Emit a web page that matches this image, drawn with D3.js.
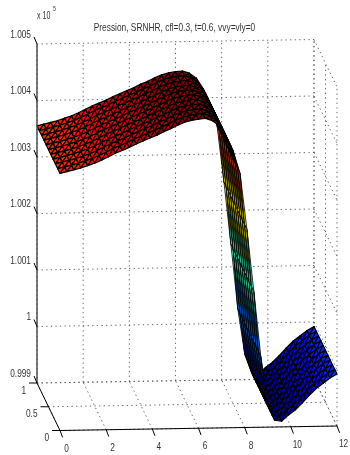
<!DOCTYPE html>
<html>
<head>
<meta charset="utf-8">
<script src="https://cdn.jsdelivr.net/npm/d3@7"></script>
<style>
html,body{margin:0;padding:0;background:#fff;}
svg{display:block;filter:blur(0.25px);}
text{font-family:"Liberation Sans",Arial,sans-serif;fill:#333;}
</style>
</head>
<body>
<svg id="c" width="350" height="455"></svg>
<script>
const titleText = "Pression, SRNHR, cfl=0.3, t=0.6, vvy=vly=0";
const xTickValues = [0, 2, 4, 6, 8, 10, 12];
const yTickValues = [0, 0.5, 1];
const zTickValues = [0.999, 1, 1.001, 1.002, 1.003, 1.004, 1.005];
const zTickLabels = ["0.999", "1", "1.001", "1.002", "1.003", "1.004", "1.005"];
const yNodes = [1, 0.9, 0.8, 0.7, 0.6, 0.5, 0.4, 0.3, 0.2, 0.1, 0];
const xNodes = [0, 0.3, 0.6, 0.9, 1.2, 1.5, 1.8, 2.1, 2.4, 2.7, 3, 3.3, 3.6, 3.9, 4.2, 4.5, 4.8, 5.1, 5.4, 5.7,
  6, 6.3, 6.6, 6.9, 7.2, 7.5, 7.8, 8.1, 8.4, 8.7, 9, 9.3, 9.6, 9.9, 10.2, 10.5, 10.8, 11.1, 11.4, 11.7, 12];
const pressure = [1.00355, 1.00358, 1.00361, 1.00364, 1.00368, 1.00372, 1.00377, 1.00383, 1.00389, 1.00394,
  1.00399, 1.00405, 1.0041, 1.00415, 1.0042, 1.00426, 1.00431, 1.00437, 1.00442, 1.00445,
  1.00447, 1.00448, 1.00444, 1.00435, 1.00416, 1.0039, 1.0035, 1.0025, 1.0014, 1.00025,
  0.99945, 0.99912, 0.9991, 0.99921, 0.9993, 0.99942, 0.99955, 0.99967, 0.99976, 0.99985, 0.99992];

const svg = d3.select("#c");

// oblique projection built from one linear scale per data axis
const xToX = d3.scaleLinear().domain([0, 12]).range([60, 337]);
const xToY = d3.scaleLinear().domain([0, 12]).range([0, -4.5]);
const yToX = d3.scaleLinear().domain([0, 1]).range([0, -23]);
const yToY = d3.scaleLinear().domain([0, 1]).range([0, -47.5]);
const zToY = d3.scaleLinear().domain([0.999, 1.005]).range([430.5, 91.5]);
const px = (x, y) => xToX(x) + yToX(y);
const py = (x, y, z) => zToY(z) + xToY(x) + yToY(y);
const pt = (x, y, z) => [px(x, y), py(x, y, z)];

const color = d3.scaleSequential(t => jet(t)).domain([d3.min(pressure) - 0.0001, d3.max(pressure)]);
function jet(t) {
  const c = v => Math.max(0, Math.min(1, v));
  const r = c(Math.min(4 * t - 1.5, -4 * t + 4.5));
  const g = c(Math.min(4 * t - 0.5, -4 * t + 3.5));
  const b = c(Math.min(4 * t + 0.5, -4 * t + 2.5));
  return d3.rgb(r * 255, g * 255, b * 255).formatRgb();
}
// mesh lines get thinner where the surface is steep, so the colour stays visible
const edgeWidth = d3.scaleLinear().domain([0.0002, 0.0008]).range([1.2, 0.8]).clamp(true);

const zMin = 0.999, zMax = 1.005;
const lineGen = d3.line();
const gridG = svg.append("g").attr("fill", "none").attr("stroke", "#555")
  .attr("stroke-width", 0.9).attr("stroke-dasharray", "1.3 3.3");
const grid = (a, b) => gridG.append("path").attr("d", lineGen([a, b]));

zTickValues.forEach(z => {
  grid(pt(0, 1, z), pt(12, 1, z));
  grid(pt(12, 1, z), pt(12, 0, z));
});
xTickValues.forEach(x => {
  grid(pt(x, 1, zMin), pt(x, 1, zMax));
  grid(pt(x, 0, zMin), pt(x, 1, zMin));
});
yTickValues.forEach(y => {
  grid(pt(0, y, zMin), pt(12, y, zMin));
  grid(pt(12, y, zMin), pt(12, y, zMax));
});

// surface: back rows first, low x first
const meshG = svg.append("g").attr("stroke", "#000").attr("stroke-linejoin", "round");
d3.range(yNodes.length - 1).forEach(j => {
  d3.range(xNodes.length - 1).forEach(i => {
    const a = pt(xNodes[i], yNodes[j], pressure[i]);
    const b = pt(xNodes[i + 1], yNodes[j], pressure[i + 1]);
    const c = pt(xNodes[i + 1], yNodes[j + 1], pressure[i + 1]);
    const d = pt(xNodes[i], yNodes[j + 1], pressure[i]);
    const w = edgeWidth(Math.abs(pressure[i + 1] - pressure[i]));
    meshG.append("path").attr("d", lineGen([a, b, d]) + "Z").attr("fill", color(pressure[i])).attr("stroke-width", w);
    meshG.append("path").attr("d", lineGen([b, c, d]) + "Z").attr("fill", color(pressure[i + 1])).attr("stroke-width", w);
  });
});

// axes
const axisG = svg.append("g").attr("fill", "none").attr("stroke", "#000").attr("stroke-width", 1);
axisG.append("path").attr("d", lineGen([pt(0, 1, zMin), pt(0, 1, zMax)])).attr("stroke", "#444").attr("stroke-width", 1.4);
axisG.append("path").attr("d", lineGen([pt(0, 0, zMin), pt(12, 0, zMin)]));
axisG.append("path").attr("d", lineGen([pt(0, 0, zMin), pt(0, 1, zMin)]));

const tick = (a, dx, dy) => axisG.append("path").attr("d", lineGen([a, [a[0] + dx, a[1] + dy]]));
xTickValues.forEach(x => tick(pt(x, 0, zMin), 2.6, 6.8));
yTickValues.forEach(y => tick(pt(0, y, zMin), -8, 0));
zTickValues.forEach(z => tick(pt(0, 1, z), -3, -7));

// reference text is horizontally condensed
const label = (x, y, s, anchor, size, sx) => svg.append("text")
  .attr("transform", `translate(${x},${y}) scale(${sx || 0.8},1)`)
  .attr("text-anchor", anchor).attr("font-size", size || 10.4).text(s);

xTickValues.forEach(x => {
  const p = pt(x, 0, zMin);
  label(p[0] + 6.5, p[1] + 21, String(x), "middle");
});
yTickValues.forEach(y => {
  const p = pt(0, y, zMin);
  label(p[0] - 11, p[1] + 10.5, String(y), "end");
});
zTickValues.forEach((z, i) => {
  const p = pt(0, 1, z);
  label(p[0] - 6, p[1] - 6.5, zTickLabels[i], "end");
});

label(174.5, 31, titleText, "middle", 10.2, 0.82);
label(37, 19, "x 10", "start", 10.4, 0.68);
label(53, 11, "5", "start", 6.5, 0.8);
</script>
</body>
</html>
